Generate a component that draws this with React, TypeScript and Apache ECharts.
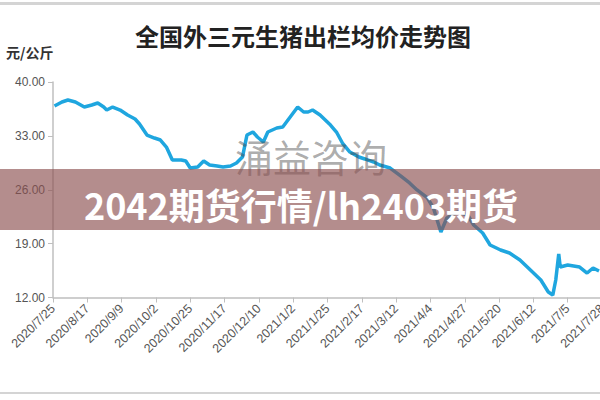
import React, { useEffect, useRef } from "react";
import * as echarts from "echarts";

const chartTitle = "全国外三元生猪出栏均价走势图";
const unitLabel = "元/公斤";
const watermark = "涌益咨询";
const bannerText = "2042期货行情/lh2403期货";

const dates = [
  "2020/7/26", "2020/7/31", "2020/8/4", "2020/8/9", "2020/8/15", "2020/8/20", "2020/8/24", "2020/8/28",
  "2020/8/30", "2020/9/3", "2020/9/8", "2020/9/13", "2020/9/18", "2020/9/21", "2020/9/26", "2020/10/1",
  "2020/10/5", "2020/10/9", "2020/10/13", "2020/10/19", "2020/10/22", "2020/10/25", "2020/10/30", "2020/11/3",
  "2020/11/7", "2020/11/12", "2020/11/16", "2020/11/21", "2020/11/25", "2020/11/29", "2020/12/2", "2020/12/6",
  "2020/12/9", "2020/12/13", "2020/12/16", "2020/12/22", "2020/12/26", "2020/12/31", "2021/1/5", "2021/1/9",
  "2021/1/12", "2021/1/15", "2021/1/20", "2021/1/27", "2021/1/31", "2021/2/4", "2021/2/9", "2021/2/15",
  "2021/2/19", "2021/2/25", "2021/3/1", "2021/3/8", "2021/3/15", "2021/3/21", "2021/3/26", "2021/4/2",
  "2021/4/6", "2021/4/11", "2021/4/15", "2021/4/22", "2021/4/29", "2021/5/3", "2021/5/9", "2021/5/14",
  "2021/5/21", "2021/5/27", "2021/6/3", "2021/6/10", "2021/6/17", "2021/6/22", "2021/6/25", "2021/6/27",
  "2021/6/29", "2021/6/30", "2021/7/5", "2021/7/9", "2021/7/13", "2021/7/18", "2021/7/22", "2021/7/26",
];

const prices = [
  36.88, 37.4, 37.66, 37.4, 36.75, 37.01, 37.27, 36.75,
  36.36, 36.75, 36.36, 35.71, 35.19, 34.54, 33.11, 32.72,
  32.46, 31.55, 29.86, 29.86, 29.73, 28.82, 28.95, 29.73,
  29.21, 29.08, 28.95, 29.08, 29.47, 30.25, 33.11, 33.5,
  32.85, 32.2, 33.5, 34.02, 34.15, 35.45, 36.75, 36.1,
  36.1, 36.36, 35.71, 34.41, 33.5, 32.07, 30.9, 30.25,
  30.0, 29.6, 29.21, 28.82, 27.79, 26.88, 25.97, 24.93,
  23.63, 20.51, 22.33, 23.11, 22.72, 21.42, 20.38, 18.82,
  18.17, 17.78, 16.87, 15.57, 14.27, 12.71, 12.32, 14.27,
  17.65, 15.96, 16.22, 16.09, 15.96, 15.18, 15.83, 15.44,
];

const yTicks = [12, 19, 26, 33, 40];
const axisStart = "2020/7/25";
const axisEnd = "2021/7/28";
const tickDays = 23;

const DAY = 86400000;
const toUTC = (s: string) => {
  const [y, m, d] = s.split("/").map(Number);
  return Date.UTC(y, m - 1, d);
};
const base = toUTC(axisStart);
const dayOf = (s: string) => Math.round((toUTC(s) - base) / DAY);
const fmtDay = (v: number) => {
  const dt = new Date(base + v * DAY);
  return `${dt.getUTCFullYear()}/${dt.getUTCMonth() + 1}/${dt.getUTCDate()}`;
};

export default function App() {
  const ref = useRef<HTMLDivElement>(null);
  useEffect(() => {
    if (!ref.current) return;
    const chart = echarts.init(ref.current, null, { renderer: "svg" });
    const seriesData = dates.map((d, i) => [dayOf(d), prices[i]]);
    chart.setOption({
      animation: false,
      backgroundColor: "#ffffff",
      textStyle: { fontFamily: "Liberation Sans, Arial, sans-serif" },
      grid: { left: 53, top: 82, right: 18, bottom: 102.5, containLabel: false },
      xAxis: {
        type: "value",
        min: 0,
        max: dayOf(axisEnd),
        interval: tickDays,
        splitLine: { show: false },
        axisLine: { show: true, lineStyle: { color: "#bfbfbf", width: 1.5 } },
        axisTick: { show: true, length: 5, lineStyle: { color: "#bfbfbf" } },
        axisLabel: {
          rotate: 45,
          fontSize: 12.5,
          color: "#555555",
          margin: 9,
          showMinLabel: true,
          showMaxLabel: true,
          formatter: (v: number) => fmtDay(v),
        },
      },
      yAxis: {
        type: "value",
        min: 12,
        max: 40,
        splitLine: { show: false },
        axisLine: { show: true, lineStyle: { color: "#bfbfbf", width: 1.5 } },
        axisTick: { show: true, length: 5, customValues: yTicks, lineStyle: { color: "#bfbfbf" } },
        axisLabel: {
          customValues: yTicks,
          fontSize: 12,
          color: "#555555",
          margin: 8,
          formatter: (v: number) => v.toFixed(2),
        },
      },
      series: [
        {
          type: "line",
          data: seriesData,
          showSymbol: false,
          smooth: false,
          lineStyle: { color: "#1fa6df", width: 3.5 },
          z: 2,
        },
      ],
      graphic: [
        { type: "rect", z: 50, shape: { x: 0, y: 2, width: 620, height: 3 }, style: { fill: "#d4d4d4" } },
        { type: "rect", z: 50, shape: { x: 0, y: 392, width: 620, height: 2 }, style: { fill: "#d4d4d4" } },
        {
          type: "text", z: 50, x: 303, y: 35,
          style: {
            text: chartTitle, fill: "#222", fontSize: 24, fontWeight: "bold",
            fontFamily: "Noto Sans CJK SC", align: "center", verticalAlign: "middle",
          },
        },
        {
          type: "text", z: 50, x: 6, y: 52,
          style: {
            text: unitLabel, fill: "#333", fontSize: 14, fontWeight: "bold",
            fontFamily: "Noto Sans CJK SC", align: "left", verticalAlign: "middle",
          },
        },
        {
          type: "text", z: 60, x: 311, y: 155,
          style: {
            text: watermark, fill: "rgba(70,70,70,0.45)", fontSize: 38,
            fontFamily: "Noto Sans CJK SC", align: "center", verticalAlign: "middle",
          },
        },
        { type: "rect", z: 70, shape: { x: 0, y: 169, width: 620, height: 61 }, style: { fill: "rgba(140,80,80,0.65)" } },
        {
          type: "text", z: 80, x: 301, y: 204,
          style: {
            text: bannerText, fill: "#ffffff", fontSize: 36, fontWeight: "bold",
            fontFamily: "Noto Sans CJK SC", align: "center", verticalAlign: "middle",
          },
        },
      ],
    });
    return () => chart.dispose();
  }, []);
  return (
    <div style={{ position: "fixed", left: 0, top: 0, width: 600, height: 400, overflow: "hidden", background: "#fff" }}>
      <div ref={ref} style={{ width: 620, height: 400 }} />
    </div>
  );
}
